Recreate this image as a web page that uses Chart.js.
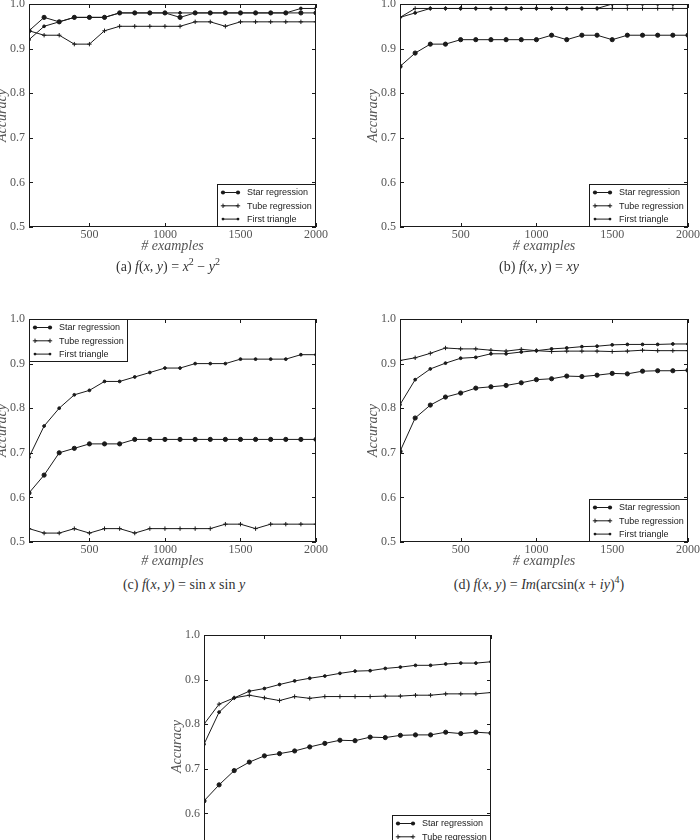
<!DOCTYPE html>
<html><head><meta charset="utf-8">
<script src="https://cdn.jsdelivr.net/npm/chart.js@4.4.1/dist/chart.umd.min.js"></script>
<style>
html,body{margin:0;padding:0;background:#fff;}
body{width:700px;height:840px;overflow:hidden;position:relative;}
canvas{position:absolute;}
.cap{position:absolute;transform:translateX(-50%);font:14px "Liberation Serif",serif;color:#333;white-space:nowrap;line-height:16px;}
.cap sup{font-size:10px;line-height:0;}
</style></head><body>
<canvas id="ca" width="353" height="268" style="left:-6px;top:-11px"></canvas>
<canvas id="cb" width="353" height="268" style="left:365px;top:-11px"></canvas>
<canvas id="cc" width="353" height="268" style="left:-6px;top:304px"></canvas>
<canvas id="cd" width="353" height="268" style="left:365px;top:304px"></canvas>
<canvas id="ce" width="353" height="268" style="left:169px;top:620px"></canvas>
<div class="cap" style="left:168px;top:259px">(a) <i>f</i>(<i>x, y</i>) = <i>x</i><sup>2</sup> − <i>y</i><sup>2</sup></div>
<div class="cap" style="left:539px;top:259px">(b) <i>f</i>(<i>x, y</i>) = <i>xy</i></div>
<div class="cap" style="left:184px;top:577px">(c) <i>f</i>(<i>x, y</i>) = sin <i>x</i> sin <i>y</i></div>
<div class="cap" style="left:539px;top:577px">(d) <i>f</i>(<i>x, y</i>) = <i>Im</i>(arcsin(<i>x</i> + <i>iy</i>)<sup>4</sup>)</div>
<script>
// ---------- data ----------
const X_VALUES = [100,200,300,400,500,600,700,800,900,1000,1100,1200,1300,1400,1500,1600,1700,1800,1900,2000];
const X_TICKS = [500,1000,1500,2000];
const Y_TICKS = [0.5,0.6,0.7,0.8,0.9,1.0];
const SERIES_NAMES = ['Star regression','Tube regression','First triangle'];
const X_TITLE = '# examples';
const Y_TITLE = 'Accuracy';

const A_STAR  = [0.94,0.97,0.96,0.97,0.97,0.97,0.98,0.98,0.98,0.98,0.97,0.98,0.98,0.98,0.98,0.98,0.98,0.98,0.98,0.98];
const A_TUBE  = [0.94,0.93,0.93,0.91,0.91,0.94,0.95,0.95,0.95,0.95,0.95,0.96,0.96,0.95,0.96,0.96,0.96,0.96,0.96,0.96];
const A_FIRST = [0.92,0.95,0.96,0.97,0.97,0.97,0.98,0.98,0.98,0.98,0.98,0.98,0.98,0.98,0.98,0.98,0.98,0.98,0.99,0.99];

const B_STAR  = [0.86,0.89,0.91,0.91,0.92,0.92,0.92,0.92,0.92,0.92,0.93,0.92,0.93,0.93,0.92,0.93,0.93,0.93,0.93,0.93];
const B_TUBE  = [0.97,0.99,0.99,0.99,0.99,0.99,0.99,0.99,0.99,0.99,0.99,0.99,0.99,0.99,0.99,0.99,0.99,0.99,0.99,0.99];
const B_FIRST = [0.97,0.98,0.99,0.99,0.99,0.99,0.99,0.99,0.99,0.99,0.99,0.99,0.99,0.99,1.00,1.00,1.00,1.00,1.00,1.00];

const C_STAR  = [0.61,0.65,0.70,0.71,0.72,0.72,0.72,0.73,0.73,0.73,0.73,0.73,0.73,0.73,0.73,0.73,0.73,0.73,0.73,0.73];
const C_TUBE  = [0.53,0.52,0.52,0.53,0.52,0.53,0.53,0.52,0.53,0.53,0.53,0.53,0.53,0.54,0.54,0.53,0.54,0.54,0.54,0.54];
const C_FIRST = [0.69,0.76,0.80,0.83,0.84,0.86,0.86,0.87,0.88,0.89,0.89,0.90,0.90,0.90,0.91,0.91,0.91,0.91,0.92,0.92];

const D_STAR  = [0.703,0.778,0.807,0.825,0.834,0.845,0.848,0.851,0.857,0.864,0.866,0.872,0.871,0.874,0.878,0.877,0.883,0.884,0.884,0.885];
const D_TUBE  = [0.907,0.913,0.923,0.935,0.933,0.933,0.930,0.928,0.932,0.929,0.927,0.928,0.928,0.928,0.927,0.928,0.930,0.929,0.929,0.929];
const D_FIRST = [0.808,0.864,0.888,0.901,0.912,0.914,0.922,0.922,0.926,0.929,0.933,0.935,0.938,0.939,0.942,0.943,0.943,0.943,0.944,0.944];

const E_STAR  = [0.628,0.664,0.696,0.715,0.729,0.734,0.740,0.749,0.757,0.764,0.763,0.771,0.770,0.775,0.776,0.776,0.782,0.779,0.782,0.780];
const E_TUBE  = [0.800,0.845,0.859,0.865,0.859,0.853,0.862,0.858,0.862,0.862,0.862,0.862,0.863,0.863,0.865,0.865,0.868,0.868,0.868,0.871];
const E_FIRST = [0.755,0.827,0.859,0.874,0.880,0.889,0.897,0.903,0.908,0.914,0.919,0.920,0.925,0.928,0.932,0.932,0.935,0.937,0.937,0.940];

// ---------- styles ----------
const INK = '#1a1a1a';
const TEXT = '#555';
const MARKERS = [
  {style:'circle', radius:2.1},
  {style:'cross', radius:2.2},
  {style:'circle', radius:1.4}
];

function drawMarker(ctx, m, x, y){
  ctx.save();
  ctx.fillStyle = INK; ctx.strokeStyle = INK; ctx.lineWidth = 1;
  if (m.style === 'circle') {
    ctx.beginPath(); ctx.arc(x, y, m.radius, 0, Math.PI*2); ctx.fill();
  } else {
    ctx.beginPath();
    ctx.moveTo(x - m.radius, y); ctx.lineTo(x + m.radius, y);
    ctx.moveTo(x, y - m.radius); ctx.lineTo(x, y + m.radius);
    ctx.stroke();
  }
  ctx.restore();
}

const framePlugin = {
  id: 'frame',
  beforeDatasetsDraw(chart){
    const {ctx, chartArea: a, scales} = chart;
    ctx.save();
    ctx.strokeStyle = INK; ctx.lineWidth = 1;
    ctx.strokeRect(Math.round(a.left)+0.5, Math.round(a.top)+0.5, Math.round(a.right - a.left)-1, Math.round(a.bottom - a.top)-1);
    ctx.beginPath();
    const tl = 4;
    X_TICKS.forEach(v => {
      const px = Math.round(scales.x.getPixelForValue(v)) + 0.5;
      ctx.moveTo(px, a.bottom); ctx.lineTo(px, a.bottom - tl);
      ctx.moveTo(px, a.top); ctx.lineTo(px, a.top + tl);
    });
    Y_TICKS.forEach(v => {
      const py = Math.round(scales.y.getPixelForValue(v)) + 0.5;
      if (py < a.top || py > a.bottom + 1) return;
      ctx.moveTo(a.left, py); ctx.lineTo(a.left + tl, py);
      ctx.moveTo(a.right, py); ctx.lineTo(a.right - tl, py);
    });
    ctx.stroke();
    ctx.restore();
  },
  afterDatasetsDraw(chart){
    const corner = chart.options.plugins.frame.corner;
    const {ctx, chartArea: a} = chart;
    const w = 99, h = 43;
    const left = corner === 'tl' ? Math.round(a.left) : Math.round(a.right) - w;
    const top = corner === 'tl' ? Math.round(a.top) : Math.round(a.bottom) - h;
    ctx.save();
    ctx.fillStyle = '#fff';
    ctx.fillRect(left, top, w, h);
    ctx.strokeStyle = INK; ctx.lineWidth = 1;
    ctx.strokeRect(left + 0.5, top + 0.5, w - 1, h - 1);
    chart.data.datasets.forEach((ds, i) => {
      const y = top + 8.5 + i * 13.3;
      ctx.strokeStyle = INK; ctx.lineWidth = 1;
      ctx.beginPath(); ctx.moveTo(left + 6, y); ctx.lineTo(left + 21, y); ctx.stroke();
      drawMarker(ctx, MARKERS[i], left + 6, y);
      drawMarker(ctx, MARKERS[i], left + 21, y);
      ctx.fillStyle = '#222';
      ctx.font = '9px "Liberation Sans", Arial, sans-serif';
      ctx.textBaseline = 'middle';
      ctx.textAlign = 'left';
      ctx.fillText(ds.label, left + 30, y + 0.5);
    });
    ctx.restore();
  }
};

function makeChart(id, series, corner, plotWidth){
  const datasets = series.map((vals, i) => ({
    label: SERIES_NAMES[i],
    data: X_VALUES.map((x, k) => ({x: x, y: vals[k]})),
    borderColor: INK,
    backgroundColor: INK,
    borderWidth: 1,
    tension: 0,
    pointStyle: MARKERS[i].style === 'circle' ? 'circle' : 'cross',
    pointRadius: MARKERS[i].radius,
    pointBorderWidth: 1,
    pointBorderColor: INK,
    pointBackgroundColor: INK
  }));
  const canvasW = 353;
  return new Chart(document.getElementById(id), {
    type: 'line',
    data: {datasets},
    plugins: [framePlugin],
    options: {
      responsive: false,
      animation: false,
      events: [],
      layout: {padding: {left: 0, top: 15, right: canvasW - 35 - plotWidth, bottom: 2}},
      plugins: {legend: {display: false}, tooltip: {enabled: false}, frame: {corner}},
      scales: {
        x: {
          type: 'linear', min: 100, max: 2000,
          grid: {display: false, drawTicks: false},
          border: {display: false},
          afterBuildTicks: s => { s.ticks = X_TICKS.map(v => ({value: v})); },
          afterFit: s => { s.height = 28; },
          ticks: {color: TEXT, font: {family: 'Liberation Serif', size: 12}, padding: 1, maxRotation: 0, callback: v => String(v)},
          title: {display: true, text: X_TITLE, color: TEXT, padding: 0,
                  font: {family: 'Liberation Serif', size: 14, style: 'italic'}}
        },
        y: {
          type: 'linear', min: 0.5, max: 1.0,
          grid: {display: false, drawTicks: false},
          border: {display: false},
          afterBuildTicks: s => { s.ticks = Y_TICKS.map(v => ({value: v})); },
          afterFit: s => { s.width = 35; },
          ticks: {color: TEXT, font: {family: 'Liberation Serif', size: 12}, padding: 4, callback: v => Number(v).toFixed(1)},
          title: {display: true, text: Y_TITLE, color: TEXT, padding: 0,
                  font: {family: 'Liberation Serif', size: 14, style: 'italic'}}
        }
      }
    }
  });
}

makeChart('ca', [A_STAR, A_TUBE, A_FIRST], 'br', 287);
makeChart('cb', [B_STAR, B_TUBE, B_FIRST], 'br', 288);
makeChart('cc', [C_STAR, C_TUBE, C_FIRST], 'tl', 287);
makeChart('cd', [D_STAR, D_TUBE, D_FIRST], 'br', 288);
makeChart('ce', [E_STAR, E_TUBE, E_FIRST], 'br', 287);
</script>
</body></html>
